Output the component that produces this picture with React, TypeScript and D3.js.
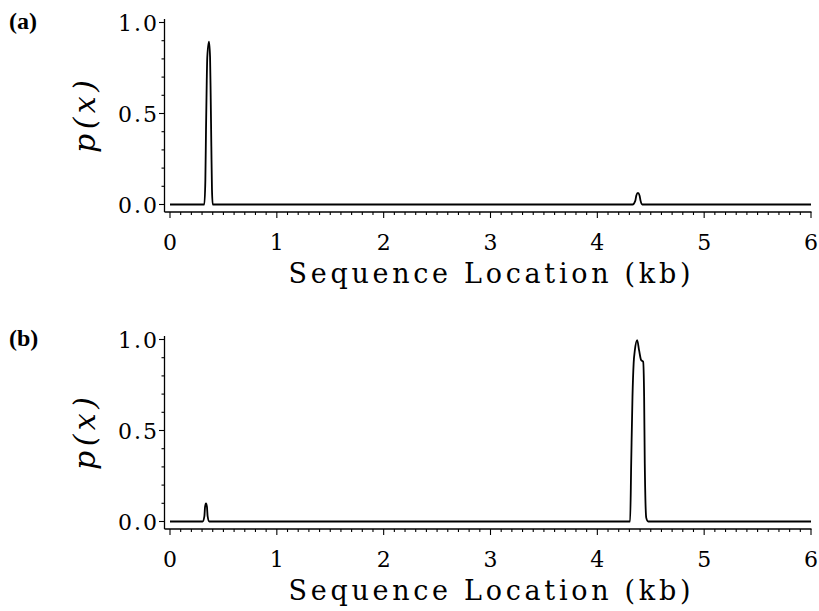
import React from "react";
import * as d3 from "d3";

// Panel (a): posterior probability along the sequence
const locA = [0, 0.321, 0.331, 0.337, 0.344, 0.349, 0.365, 0.375, 0.381, 0.387, 0.393, 0.4, 4.33, 4.355, 4.365, 4.38, 4.395, 4.405, 4.42, 6];
const probA = [0, 0, 0.135, 0.41, 0.68, 0.81, 0.895, 0.81, 0.59, 0.32, 0.08, 0, 0, 0.02, 0.05, 0.064, 0.05, 0.02, 0, 0];

// Panel (b)
const locB = [0, 0.305, 0.322, 0.328, 0.337, 0.346, 0.352, 0.368, 4.307, 4.317, 4.329, 4.34, 4.351, 4.373, 4.391, 4.41, 4.429, 4.438, 4.444, 4.458, 4.476, 6];
const probB = [0, 0, 0.03, 0.08, 0.1, 0.08, 0.03, 0, 0, 0.32, 0.686, 0.87, 0.94, 0.997, 0.94, 0.887, 0.878, 0.686, 0.32, 0.02, 0, 0];

const xTickLabels = ["0", "1", "2", "3", "4", "5", "6"];
const yTickLabels = ["0.0", "0.5", "1.0"];
const panelTags = ["(a)", "(b)"];
const xTitle = "Sequence Location (kb)";

const W = 819;
const H = 611;
const PANEL_STEP = 317;
const X0 = 170;
const X1 = 811;
const AXIS_X = 164.5;

type PanelProps = { xs: number[]; ys: number[]; tag: string; offset: number };

function Panel({ xs, ys, tag, offset }: PanelProps) {
  const x = d3.scaleLinear().domain([0, 6]).range([X0, X1]);
  const y = d3.scaleLinear().domain([0, 1]).range([204.5 + offset, 22.5 + offset]);
  const axisY = 212 + offset;
  const pts = xs.map((v, i) => [v, ys[i]] as [number, number]);
  const path = d3
    .line<[number, number]>()
    .x((d) => x(d[0]))
    .y((d) => y(d[1]))
    .curve(d3.curveMonotoneX)(pts) || "";

  const xMinor = d3.range(0, 61).map((i) => i / 10);
  const yMinor = d3.range(0, 11).map((i) => i / 10);

  return (
    <g>
      <text x={9} y={29 + offset} fontFamily="'Liberation Serif', serif" fontWeight="bold" fontSize={24}>
        {tag}
      </text>
      {/* y axis */}
      <line x1={AXIS_X} x2={AXIS_X} y1={19 + offset} y2={axisY} stroke="#000" strokeWidth={1.3} />
      {yMinor.map((v, i) => {
        const major = i % 5 === 0;
        return (
          <line key={"yt" + i} x1={AXIS_X - (major ? 5.5 : 3)} x2={AXIS_X} y1={y(v)} y2={y(v)} stroke="#000" strokeWidth={1.1} />
        );
      })}
      {yTickLabels.map((lab) => (
        <text
          key={lab}
          x={157 + 2}
          y={y(+lab) + 8}
          textAnchor="end"
          fontFamily="'DejaVu Serif', serif"
          fontSize={22}
          letterSpacing={2}
        >
          {lab}
        </text>
      ))}
      <text
        transform={`translate(95,${116.5 + offset}) rotate(-90)`}
        textAnchor="middle"
        fontFamily="'DejaVu Serif', serif"
        fontStyle="italic"
        fontSize={30}
        textLength={73}
        lengthAdjust="spacing"
      >
        p(x)
      </text>
      {/* x axis */}
      <line x1={AXIS_X} x2={X1 + 0.5} y1={axisY} y2={axisY} stroke="#000" strokeWidth={1.3} />
      {xMinor.map((v, i) => {
        const major = i % 10 === 0;
        return (
          <line key={"xt" + i} x1={x(v)} x2={x(v)} y1={axisY} y2={axisY + (major ? 6 : 3)} stroke="#000" strokeWidth={1.1} />
        );
      })}
      {xTickLabels.map((lab) => (
        <text key={lab} x={x(+lab)} y={250 + offset} textAnchor="middle" fontFamily="'DejaVu Serif', serif" fontSize={22}>
          {lab}
        </text>
      ))}
      <text
        x={x(3) - 1}
        y={283 + offset}
        textAnchor="middle"
        fontFamily="'DejaVu Serif', serif"
        fontSize={27}
        textLength={402}
        lengthAdjust="spacing"
      >
        {xTitle}
      </text>
      <path d={path} fill="none" stroke="#000" strokeWidth={1.8} strokeLinejoin="round" />
    </g>
  );
}

export default function App() {
  return (
    <svg width={W} height={H} style={{ position: "absolute", left: 0, top: 0, background: "#fff" }}>
      <rect width={W} height={H} fill="#fff" />
      <Panel xs={locA} ys={probA} tag={panelTags[0]} offset={0} />
      <Panel xs={locB} ys={probB} tag={panelTags[1]} offset={PANEL_STEP} />
    </svg>
  );
}
